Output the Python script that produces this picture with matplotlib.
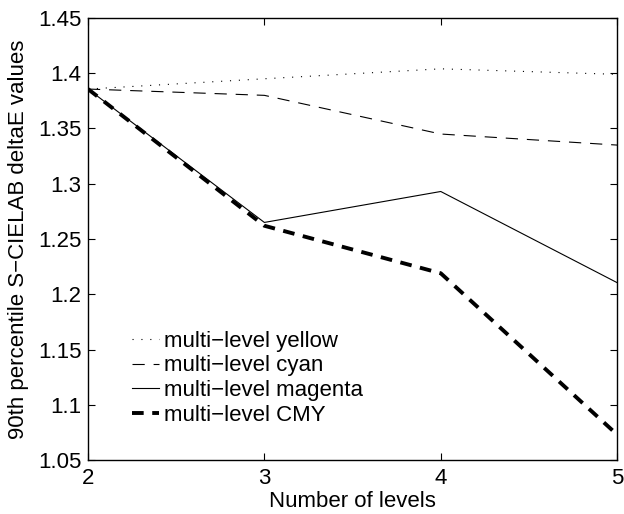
import matplotlib
matplotlib.use("Agg")
import matplotlib.pyplot as plt

levels = [2, 3, 4, 5]
yellow = [1.3857, 1.395, 1.404, 1.399]
cyan = [1.3857, 1.380, 1.345, 1.335]
magenta = [1.3857, 1.265, 1.293, 1.2105]
cmy = [1.3857, 1.262, 1.219, 1.073]
labels = ["multi\u2212level yellow", "multi\u2212level cyan", "multi\u2212level magenta", "multi\u2212level CMY"]

plt.rcParams['font.family'] = ['Liberation Sans', 'DejaVu Sans']
fig = plt.figure(figsize=(6.24, 5.14), dpi=100)
ax = fig.add_axes([0.141, 0.105, 0.848, 0.860])

ax.plot(levels, yellow, color='black', linestyle=(0, (1, 7)), linewidth=0.8, label=labels[0])
ax.plot(levels, cyan, color='black', linestyle=(0, (11, 8)), linewidth=0.8, label=labels[1])
ax.plot(levels, magenta, color='black', linestyle='-', linewidth=0.8, label=labels[2])
ax.plot(levels, cmy, color='black', linestyle=(0, (3, 2.2)), linewidth=2.8, label=labels[3])

ax.set_xlim(2, 5)
ax.set_ylim(1.05, 1.45)
ax.set_xticks([2, 3, 4, 5])
ax.set_yticks([1.05, 1.1, 1.15, 1.2, 1.25, 1.3, 1.35, 1.4, 1.45])
ax.set_yticklabels(['1.05', '1.1', '1.15', '1.2', '1.25', '1.3', '1.35', '1.4', '1.45'])
ax.tick_params(direction='in', top=True, right=True, labelsize=16, length=5)
ax.tick_params(axis='x', pad=6)
ax.tick_params(axis='y', pad=4.5)
for s in ax.spines.values():
    s.set_linewidth(1.0)
ax.set_xlabel('Number of levels', fontsize=16, labelpad=1.5)
ax.set_ylabel('90th percentile S\u2212CIELAB deltaE values', fontsize=16, labelpad=7)

ax.legend(loc='lower left', bbox_to_anchor=(0.083, 0.078), frameon=False, fontsize=16,
          handlelength=1.2, handletextpad=0.25, labelspacing=0.16, borderpad=0, borderaxespad=0)

fig.savefig('out.png', dpi=100)
